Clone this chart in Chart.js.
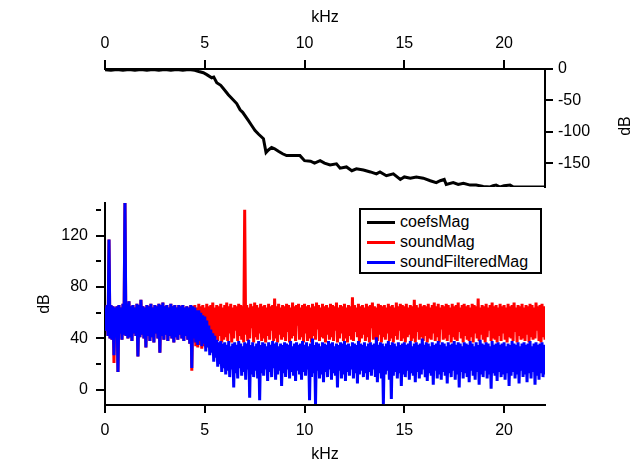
<!DOCTYPE html>
<html>
<head>
<meta charset="utf-8">
<script src="https://cdn.jsdelivr.net/npm/chart.js@4.4.1/dist/chart.umd.min.js"></script>
<style>
  body { margin: 0; background: #fff; }
  #wrap { position: relative; width: 639px; height: 463px; font-family: "Liberation Sans", Arial, sans-serif; }
  #wrap canvas { position: absolute; left: 0; top: 0; }
  #legend { position: absolute; left: 359px; top: 208px; width: 183px; height: 66px; box-sizing: border-box;
            border: 2px solid #000; background: #fff; font-size: 16px; color: #000; }
  .row { position: absolute; left: 0; height: 20px; line-height: 20px; white-space: nowrap; }
  .row span.sw { position: absolute; left: 6px; top: 9px; width: 28px; height: 3px; }
  .row span.tx { position: absolute; left: 39px; top: 0; }
</style>
</head>
<body>
<div id="wrap">
  <canvas id="bottomChart" width="639" height="463"></canvas>
  <canvas id="topChart" width="639" height="463"></canvas>
  <div id="legend"></div>
</div>
<script>
// kHz axis and dB tick labels
const kHzTicks = [0, 5, 10, 15, 20];
const coefsDbTicks = [0, -50, -100, -150];
const soundDbTicks = [0, 20, 40, 60, 80, 100, 120, 140];

// filter response (coefsMag)
const coefsKHz = [0, 0.3, 0.6, 0.9, 1.2, 1.5, 1.8, 2.1, 2.4, 2.7, 3.0, 3.3, 3.6, 3.9, 4.2, 4.5, 4.7, 4.93,
  5.1, 5.35, 5.45, 5.6, 5.8, 5.93, 6.18, 6.3, 6.6, 6.77, 6.9, 7.18, 7.35, 7.52, 7.7, 7.94, 8.07, 8.19,
  8.35, 8.5, 8.69, 8.9, 9.1, 9.4, 9.77, 10.0, 10.3, 10.5, 10.78, 11.0, 11.28, 11.6, 11.78, 12.1, 12.37,
  12.6, 12.95, 13.3, 13.6, 13.78, 14.1, 14.45, 14.8, 15.0, 15.3, 15.6, 15.95, 16.3, 16.6, 16.8, 17.0,
  17.1, 17.45, 17.7, 17.96, 18.3, 18.6, 18.96, 19.3, 19.45, 19.6, 19.8, 20.0, 20.3, 20.47, 21.0, 22.05];
const coefsDb = [-1, -2, -1, -2, -1, -2, -1, -2, -1, -2, -1, -2, -1, -2, -1, -2, -4, -6,
  -9, -14, -13, -22, -26, -31, -41, -45, -55, -65, -69, -82, -90, -98, -104, -111, -133, -129,
  -125, -127, -131, -135, -138, -138, -138, -146, -147, -150, -146, -150, -153, -151, -158, -156, -162,
  -159, -161, -164, -167, -164, -170, -167, -176, -172, -174, -172, -174, -178, -181, -178, -176,
  -184, -181, -184, -182, -185, -185, -187, -188, -186, -185, -188, -186, -185, -188, -188, -188];

// spectra: upper / lower envelope per 0.1 kHz bin
const binKHz = 0.1;
const soundHi = [
  64, 66, 117, 66, 65, 64, 65, 66, 64, 67,
  146, 67, 69, 65, 66, 64, 67, 66, 70, 65,
  64, 66, 65, 67, 64, 66, 65, 67, 66, 68,
  65, 66, 64, 67, 65, 66, 64, 66, 65, 66,
  64, 65, 64, 66, 65, 66, 64, 67, 65, 66,
  64, 67, 65, 66, 68, 64, 66, 65, 67, 64,
  66, 68, 65, 67, 64, 66, 65, 67, 66, 65,
  140, 66, 64, 67, 65, 68, 66, 64, 67, 65,
  66, 64, 67, 65, 66, 71, 65, 67, 64, 66,
  65, 67, 66, 64, 68, 65, 66, 67, 64, 66,
  67, 65, 66, 64, 67, 65, 68, 66, 64, 67,
  65, 66, 64, 67, 66, 65, 68, 64, 66, 65,
  67, 64, 66, 65, 72, 66, 64, 67, 65, 66,
  64, 67, 65, 66, 68, 65, 64, 67, 66, 65,
  66, 64, 67, 65, 66, 64, 68, 65, 67, 66,
  65, 67, 64, 66, 65, 70, 66, 64, 67, 65,
  66, 65, 67, 64, 66, 68, 65, 67, 64, 66,
  65, 67, 66, 64, 67, 65, 66, 68, 64, 66,
  67, 65, 66, 64, 67, 66, 65, 71, 64, 66,
  65, 67, 64, 66, 68, 65, 66, 64, 67, 65,
  66, 64, 67, 65, 66, 68, 64, 66, 65, 67,
  64, 66, 65, 67, 66, 64, 68, 65, 66, 67,
  65];
const soundLo = [
  46, 42, 40, 39, 21, 41, 14, 44, 39, 43,
  42, 40, 41, 38, 44, 42, 26, 41, 43, 40,
  33, 42, 38, 41, 37, 44, 40, 29, 42, 39,
  43, 38, 42, 40, 37, 41, 39, 43, 40, 38,
  42, 39, 36, 15, 37, 34, 33, 35, 32, 34,
  33, 38, 36, 39, 37, 40, 38, 42, 37, 39,
  41, 38, 44, 37, 40, 46, 38, 42, 39, 37,
  43, 38, 40, 48, 37, 41, 39, 44, 38, 40,
  37, 42, 39, 46, 38, 40, 37, 43, 39, 41,
  38, 45, 37, 40, 42, 38, 50, 39, 41, 37,
  44, 38, 40, 37, 42, 39, 47, 38, 41, 40,
  37, 43, 39, 41, 38, 46, 37, 40, 44, 38,
  40, 37, 42, 39, 38, 45, 41, 37, 40, 43,
  38, 41, 37, 48, 39, 40, 38, 43, 37, 41,
  39, 44, 38, 40, 37, 42, 39, 46, 38, 40,
  37, 41, 43, 38, 40, 37, 45, 39, 41, 38,
  42, 37, 40, 39, 44, 38, 41, 37, 47, 39,
  40, 38, 43, 37, 41, 39, 38, 45, 40, 37,
  42, 39, 38, 41, 37, 44, 40, 38, 43, 39,
  37, 41, 46, 38, 40, 39, 37, 42, 38, 44,
  39, 37, 41, 40, 38, 45, 37, 42, 39, 40,
  38, 43, 37, 41, 39, 40, 46, 38, 37, 41,
  39];
const filteredHi = [
  64, 66, 117, 66, 65, 64, 65, 66, 64, 67,
  146, 67, 69, 65, 66, 64, 67, 66, 70, 65,
  64, 66, 65, 67, 64, 66, 65, 67, 66, 68,
  65, 66, 64, 67, 65, 66, 64, 66, 65, 66,
  64, 65, 64, 66, 65, 64, 62, 62, 60, 58,
  57, 54, 50, 47, 44, 42, 39, 37, 38, 36,
  37, 35, 38, 34, 36, 37, 35, 38, 36, 34,
  37, 36, 39, 35, 37, 34, 36, 38, 35, 37,
  36, 34, 37, 35, 38, 36, 37, 34, 36, 35,
  37, 36, 35, 38, 34, 36, 37, 35, 36, 38,
  35, 37, 34, 36, 40, 35, 37, 36, 34, 37,
  36, 35, 38, 36, 37, 34, 36, 35, 37, 36,
  38, 35, 36, 34, 37, 36, 35, 38, 36, 35,
  37, 34, 36, 37, 35, 36, 41, 35, 37, 36,
  34, 36, 38, 35, 37, 36, 34, 37, 35, 36,
  37, 35, 36, 38, 34, 36, 37, 35, 36, 40,
  35, 37, 36, 34, 37, 35, 36, 38, 35, 37,
  36, 34, 37, 35, 36, 38, 35, 37, 36, 34,
  37, 36, 35, 38, 36, 34, 37, 35, 39, 36,
  35, 37, 36, 34, 38, 35, 36, 37, 35, 36,
  37, 34, 36, 35, 38, 36, 35, 37, 34, 36,
  37, 35, 36, 38, 34, 36, 37, 35, 36, 37,
  35];
const filteredLo = [
  46, 42, 40, 39, 27, 41, 14, 44, 39, 43,
  42, 40, 41, 38, 44, 42, 26, 41, 43, 40,
  33, 42, 38, 41, 37, 44, 40, 29, 42, 39,
  43, 38, 42, 40, 37, 41, 39, 43, 40, 38,
  42, 39, 36, 17, 40, 37, 35, 38, 34, 36,
  30, 33, 27, 29, 22, 25, 18, 20, 14, 17,
  12, 15, 10, 16, 2, 13, 9, 17, 11, 14,
  8, 16, -6, 12, 10, 15, 9, -8, 13, 11,
  16, 7, 14, 10, 17, 8, 12, 15, 3, 13,
  10, 16, 9, 14, 11, 7, 15, 12, 8, 14,
  11, 16, -8, 10, 13, -11, 15, 9, 12, 6,
  14, 10, 16, 8, 13, 11, 2, 15, 9, 12,
  7, 14, 11, 16, 9, 13, 5, 12, 15, 10,
  13, 8, 14, 11, 16, 10, 6, 13, 9, -11,
  12, 15, 8, -7, 11, 14, 9, 13, 3, 12,
  10, 15, 8, 13, 11, 6, 14, 9, 12, 16,
  10, 7, 13, 11, 4, 15, 9, 12, 8, 14,
  11, 5, 13, 10, 15, 8, 12, 2, 14, 9,
  13, 10, 6, 15, 11, 8, 14, 4, 12, 10,
  15, 9, 12, 1, 13, 11, 7, 14, 10, 12,
  8, 13, 3, 11, 14, 9, 12, 5, 15, 10,
  12, 6, 13, 9, 14, 4, 11, 8, 13, 10,
  12];

const seriesNames = ['coefsMag', 'soundMag', 'soundFilteredMag'];
const seriesColors = ['#000000', '#ff0000', '#0000ff'];

const FONT = '"Liberation Sans", Arial, sans-serif';
Chart.defaults.color = '#000';
Chart.defaults.font.family = FONT;
Chart.defaults.font.size = 16;

function envelope(hi, lo) {
  const pts = [];
  for (let i = 0; i < hi.length; i++) {
    pts.push({x: i * binKHz, y: hi[i]});
    pts.push({x: i * binKHz + binKHz / 2, y: lo[i]});
  }
  return pts;
}

function axisLook(tickLen) {
  return {
    border: {display: true, color: '#000', width: 2},
    grid: {display: true, drawOnChartArea: false, drawTicks: true, tickLength: tickLen, color: '#000', lineWidth: 2}
  };
}

const setTicks = list => scale => { scale.ticks = list.map(v => ({value: v})); };

// right-hand "dB" title, same reading direction as the left one
const rightTitle = {
  id: 'rightTitle',
  afterDraw(chart) {
    const ctx = chart.ctx;
    ctx.save();
    ctx.translate(626, 126);
    ctx.rotate(-Math.PI / 2);
    ctx.font = '16px ' + FONT;
    ctx.fillStyle = '#000';
    ctx.textAlign = 'center';
    ctx.textBaseline = 'middle';
    ctx.fillText('dB', 0, 0);
    ctx.restore();
  }
};

new Chart(document.getElementById('topChart'), {
  type: 'line',
  data: {
    datasets: [{
      label: seriesNames[0],
      data: coefsKHz.map((k, i) => ({x: k, y: coefsDb[i]})),
      borderColor: seriesColors[0],
      borderWidth: 3,
      pointRadius: 0,
      tension: 0
    }]
  },
  options: {
    responsive: false,
    animation: false,
    events: [],
    layout: {padding: {left: 105, top: 0, right: 0, bottom: 276}},
    plugins: {legend: {display: false}, tooltip: {enabled: false}},
    scales: {
      x: {
        type: 'linear', position: 'top', min: 0, max: 22.05,
        ...axisLook(9),
        afterBuildTicks: setTicks(kHzTicks),
        afterFit: s => { s.height = 69; },
        ticks: {padding: 7, maxRotation: 0, callback: v => v},
        title: {display: true, text: 'kHz', font: {size: 16, lineHeight: 1}, padding: {top: 10, bottom: 0}}
      },
      y: {
        type: 'linear', position: 'right', min: -188, max: 0,
        ...axisLook(8),
        afterBuildTicks: setTicks(coefsDbTicks),
        afterFit: s => { s.width = 94; },
        ticks: {padding: 5, callback: v => v}
      }
    }
  },
  plugins: [rightTitle]
});

new Chart(document.getElementById('bottomChart'), {
  type: 'line',
  data: {
    datasets: [{
      label: seriesNames[2],
      data: envelope(filteredHi, filteredLo),
      borderColor: seriesColors[2],
      borderWidth: 3,
      pointRadius: 0,
      tension: 0
    }, {
      label: seriesNames[1],
      data: envelope(soundHi, soundLo),
      borderColor: seriesColors[1],
      borderWidth: 3,
      pointRadius: 0,
      tension: 0
    }]
  },
  options: {
    responsive: false,
    animation: false,
    events: [],
    layout: {padding: {left: 0, top: 203, right: 94, bottom: 0}},
    plugins: {legend: {display: false}, tooltip: {enabled: false}},
    scales: {
      x: {
        type: 'linear', position: 'bottom', min: 0, max: 22.05,
        ...axisLook(8),
        afterBuildTicks: setTicks(kHzTicks),
        afterFit: s => { s.height = 58; },
        ticks: {padding: 8, maxRotation: 0, callback: v => v},
        title: {display: true, text: 'kHz', font: {size: 16, lineHeight: 1}, padding: {top: 0, bottom: 0}}
      },
      y: {
        type: 'linear', position: 'left', min: -11.7, max: 145.3,
        border: {display: true, color: '#000', width: 2},
        grid: {
          display: true, drawOnChartArea: false, drawTicks: true, tickLength: 9, color: '#000', lineWidth: 2,
          tickBorderDash: ctx => (ctx.tick && ctx.tick.value % 40 === 0) ? [] : [5, 20]
        },
        afterBuildTicks: setTicks(soundDbTicks),
        afterFit: s => { s.width = 105; },
        ticks: {padding: 8, callback: v => (v % 40 === 0 ? v : '')},
        title: {display: true, text: 'dB', font: {size: 16, lineHeight: 1}, padding: {top: 37, bottom: 0}}
      }
    }
  }
});

// legend box inside the lower plot
const legend = document.getElementById('legend');
seriesNames.forEach((name, i) => {
  const row = document.createElement('div');
  row.className = 'row';
  row.style.top = (2 + i * 20) + 'px';
  row.innerHTML = '<span class="sw" style="background:' + seriesColors[i] + '"></span><span class="tx">' + name + '</span>';
  legend.appendChild(row);
});
</script>
</body>
</html>
